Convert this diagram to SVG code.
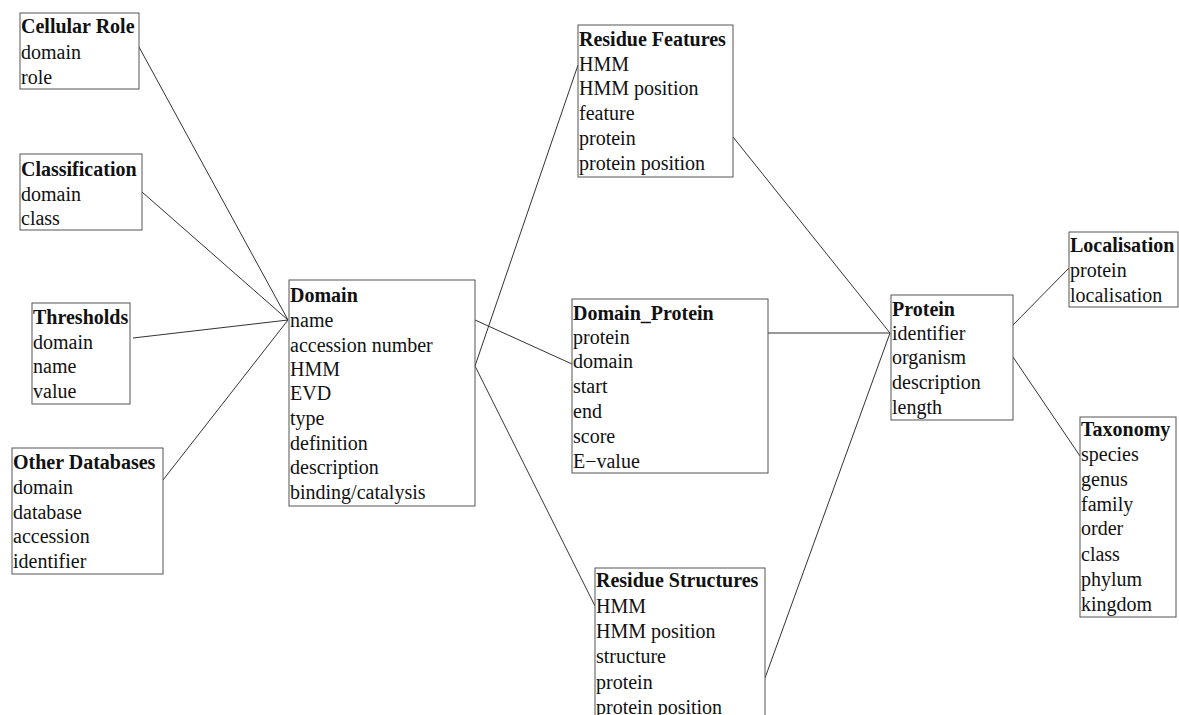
<svg xmlns="http://www.w3.org/2000/svg" width="1179" height="715" viewBox="0 0 1179 715">
<style>
.box{fill:#fff;stroke:#555;stroke-width:1}
text{font-family:"Liberation Serif","Times New Roman",serif;font-size:20px;fill:#111}
.t{font-weight:bold}
.c{stroke:#333;stroke-width:1;fill:none}
</style>
<rect width="1179" height="715" fill="#fff"/>
<g id="connectors">
<line class="c" x1="139" y1="47" x2="288" y2="320"/>
<line class="c" x1="142" y1="192" x2="288" y2="320"/>
<line class="c" x1="133" y1="338" x2="288" y2="320"/>
<line class="c" x1="163" y1="480" x2="288" y2="320"/>
<line class="c" x1="475" y1="320" x2="572" y2="364"/>
<line class="c" x1="475" y1="366" x2="578" y2="65"/>
<line class="c" x1="475" y1="366" x2="595" y2="606"/>
<line class="c" x1="733" y1="137" x2="890" y2="333"/>
<line class="c" x1="768" y1="333" x2="890" y2="333"/>
<line class="c" x1="765" y1="678" x2="890" y2="333"/>
<line class="c" x1="1013" y1="325" x2="1069" y2="268"/>
<line class="c" x1="1013" y1="357" x2="1080" y2="456"/>
</g>
<g id="cellular-role">
<rect class="box" x="20" y="13" width="119" height="76"/>
<text x="21" y="33" class="t">Cellular Role</text>
<text x="21" y="59">domain</text>
<text x="21" y="84">role</text>
</g>
<g id="classification">
<rect class="box" x="20" y="154" width="122" height="76"/>
<text x="21" y="176" class="t">Classification</text>
<text x="21" y="201">domain</text>
<text x="21" y="225">class</text>
</g>
<g id="thresholds">
<rect class="box" x="32" y="303" width="98" height="101"/>
<text x="33" y="324" class="t">Thresholds</text>
<text x="33" y="349">domain</text>
<text x="33" y="373">name</text>
<text x="33" y="398">value</text>
</g>
<g id="other-databases">
<rect class="box" x="12" y="448" width="151" height="126"/>
<text x="13" y="469" class="t">Other Databases</text>
<text x="13" y="494">domain</text>
<text x="13" y="519">database</text>
<text x="13" y="543">accession</text>
<text x="13" y="568">identifier</text>
</g>
<g id="domain">
<rect class="box" x="289" y="280" width="186" height="226"/>
<text x="290" y="302" class="t">Domain</text>
<text x="290" y="327">name</text>
<text x="290" y="352">accession number</text>
<text x="290" y="376">HMM</text>
<text x="290" y="400">EVD</text>
<text x="290" y="425">type</text>
<text x="290" y="450">definition</text>
<text x="290" y="474">description</text>
<text x="290" y="499">binding/catalysis</text>
</g>
<g id="domain-protein">
<rect class="box" x="572" y="299" width="196" height="174"/>
<text x="573" y="320" class="t">Domain_Protein</text>
<text x="573" y="344">protein</text>
<text x="573" y="368">domain</text>
<text x="573" y="393">start</text>
<text x="573" y="418">end</text>
<text x="573" y="443">score</text>
<text x="573" y="468">E−value</text>
</g>
<g id="residue-features">
<rect class="box" x="578" y="25" width="155" height="152"/>
<text x="579" y="46" class="t">Residue Features</text>
<text x="579" y="71">HMM</text>
<text x="579" y="95">HMM position</text>
<text x="579" y="120">feature</text>
<text x="579" y="145">protein</text>
<text x="579" y="170">protein position</text>
</g>
<g id="residue-structures">
<rect class="box" x="595" y="568" width="170" height="160"/>
<text x="596" y="587" class="t">Residue Structures</text>
<text x="596" y="613">HMM</text>
<text x="596" y="638">HMM position</text>
<text x="596" y="663">structure</text>
<text x="596" y="689">protein</text>
<text x="596" y="714">protein position</text>
</g>
<g id="protein">
<rect class="box" x="891" y="295" width="122" height="125"/>
<text x="892" y="316" class="t">Protein</text>
<text x="892" y="340">identifier</text>
<text x="892" y="364">organism</text>
<text x="892" y="389">description</text>
<text x="892" y="414">length</text>
</g>
<g id="localisation">
<rect class="box" x="1069" y="232" width="109" height="75"/>
<text x="1070" y="252" class="t">Localisation</text>
<text x="1070" y="277">protein</text>
<text x="1070" y="302">localisation</text>
</g>
<g id="taxonomy">
<rect class="box" x="1080" y="417" width="96" height="200"/>
<text x="1081" y="436" class="t">Taxonomy</text>
<text x="1081" y="461">species</text>
<text x="1081" y="486">genus</text>
<text x="1081" y="511">family</text>
<text x="1081" y="535">order</text>
<text x="1081" y="561">class</text>
<text x="1081" y="586">phylum</text>
<text x="1081" y="611">kingdom</text>
</g>
</svg>
